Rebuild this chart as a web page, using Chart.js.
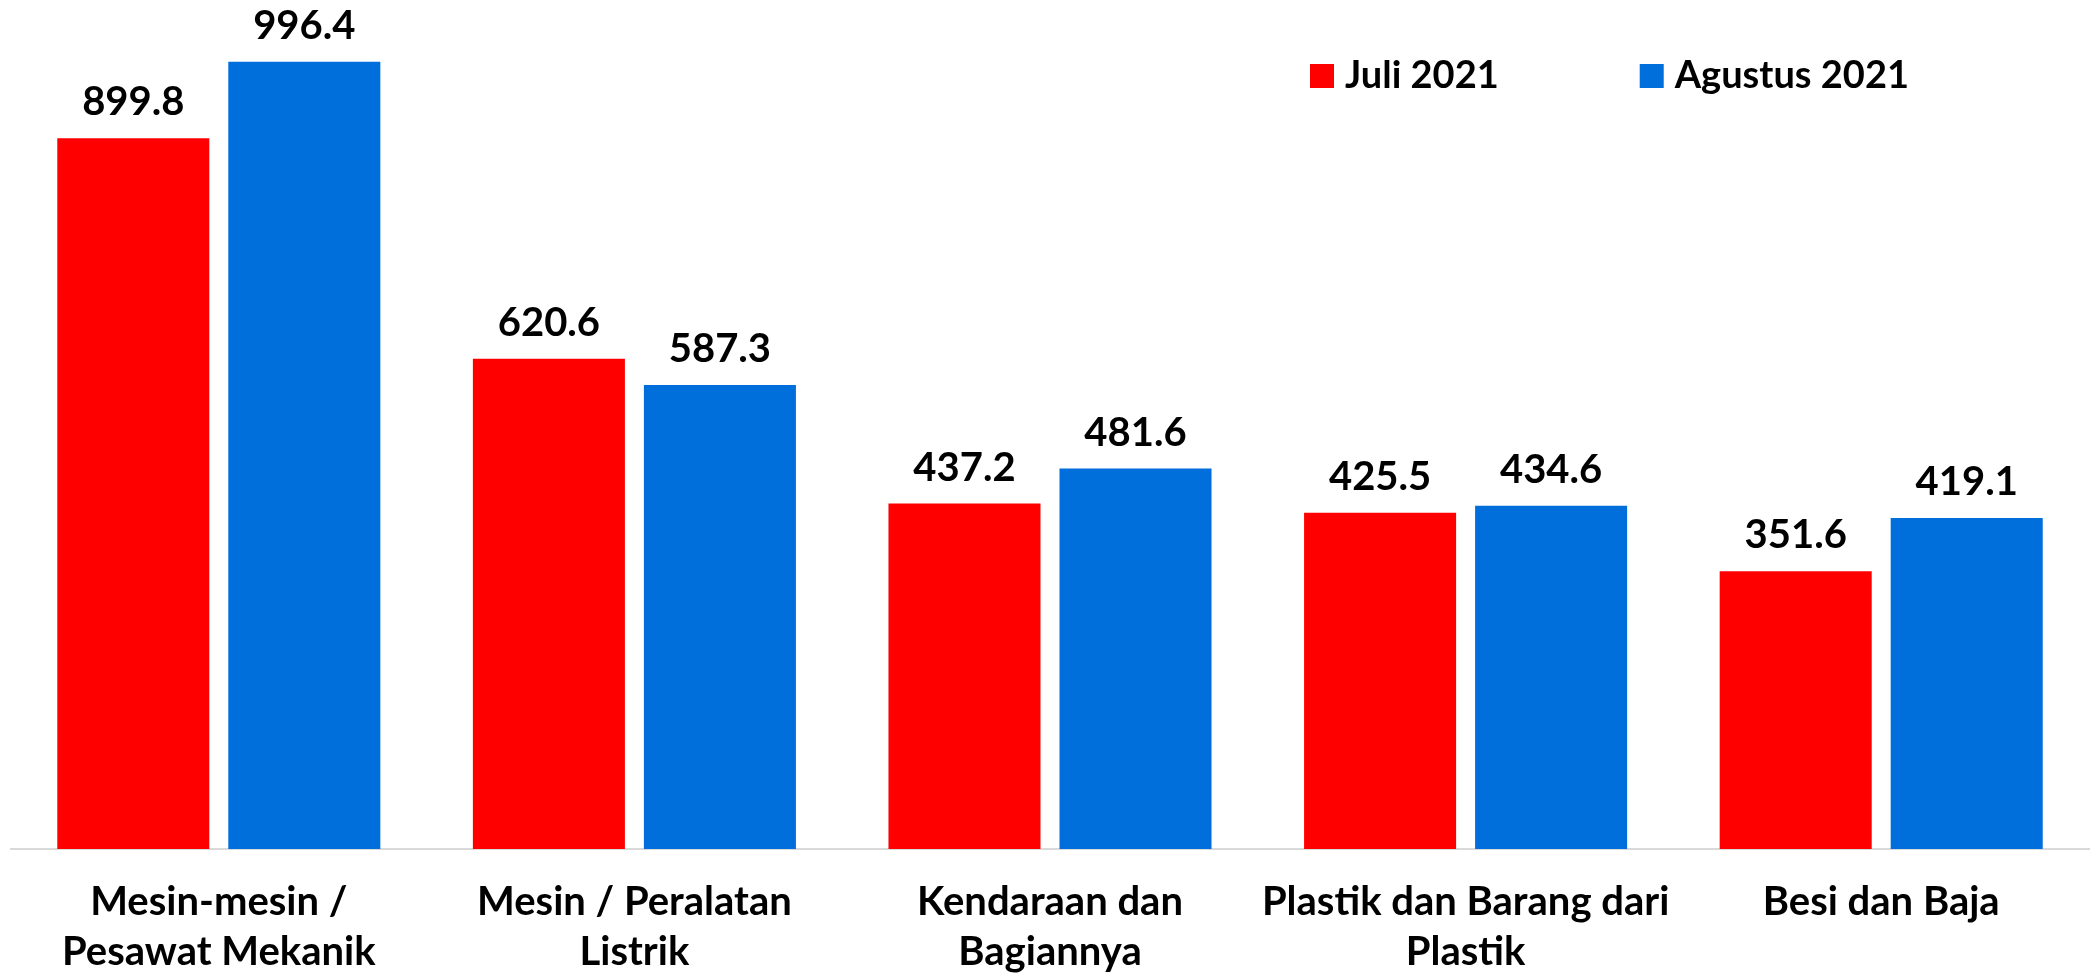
<!DOCTYPE html>
<html>
<head>
<meta charset="utf-8">
<script src="https://cdn.jsdelivr.net/npm/chart.js@4/dist/chart.umd.min.js"></script>
<style>
  html, body { margin: 0; padding: 0; background: #fff; }
  canvas { display: block; }
</style>
</head>
<body>
<canvas id="exportChart" width="2095" height="977"></canvas>
<script>
// Nilai ekspor per golongan barang (Juli vs Agustus 2021)
var categories = [
    ['Mesin-mesin /', 'Pesawat Mekanik'],
    ['Mesin / Peralatan', 'Listrik'],
    ['Kendaraan dan', 'Bagiannya'],
    ['Plastik dan Barang dari', 'Plastik'],
    ['Besi dan Baja']
];
var seriesNames = ['Juli 2021', 'Agustus 2021'];
var juliValues = [899.8, 620.6, 437.2, 425.5, 351.6];
var agustusValues = [996.4, 587.3, 481.6, 434.6, 419.1];

var FONT = 'Lato, "Open Sans", sans-serif';
var RED = '#ff0000';
var BLUE = '#006fdc';

// angka di atas tiap batang
var valueLabels = {
    id: 'valueLabels',
    afterDatasetsDraw: function (chart) {
        var ctx = chart.ctx;
        ctx.save();
        ctx.font = 'bold 40px ' + FONT;
        ctx.fillStyle = '#000';
        ctx.textAlign = 'center';
        ctx.textBaseline = 'alphabetic';
        chart.data.datasets.forEach(function (ds, i) {
            chart.getDatasetMeta(i).data.forEach(function (bar, j) {
                ctx.fillText(ds.data[j].toFixed(1), bar.x, bar.y - 23);
            });
        });
        ctx.restore();
    }
};

// legenda di kanan atas
var topLegend = {
    id: 'topLegend',
    afterDraw: function (chart) {
        var ctx = chart.ctx;
        ctx.save();
        ctx.font = 'bold 38px ' + FONT;
        ctx.textBaseline = 'middle';
        ctx.textAlign = 'left';
        var x = 1310, y = 76;
        chart.data.datasets.forEach(function (ds) {
            ctx.fillStyle = ds.backgroundColor;
            ctx.fillRect(x, y - 12, 24, 24);
            ctx.fillStyle = '#000';
            ctx.fillText(ds.label, x + 35, y);
            x += 35 + ctx.measureText(ds.label).width + 141;
        });
        ctx.restore();
    }
};

new Chart(document.getElementById('exportChart').getContext('2d'), {
    type: 'bar',
    data: {
        labels: categories,
        datasets: [
            { label: seriesNames[0], data: juliValues, backgroundColor: RED },
            { label: seriesNames[1], data: agustusValues, backgroundColor: BLUE }
        ]
    },
    options: {
        responsive: false,
        animation: false,
        layout: { padding: { top: 59, left: 11, right: 6, bottom: 0 } },
        categoryPercentage: 0.823,
        barPercentage: 0.889,
        scales: {
            x: {
                grid: { display: false },
                border: { display: true, color: '#d9d9d9', width: 2 },
                ticks: {
                    color: '#000',
                    padding: 20,
                    maxRotation: 0,
                    autoSkip: false,
                    font: { family: FONT, size: 40, weight: 'bold', lineHeight: 1.25 }
                },
                afterFit: function (scale) { scale.height = 128; }
            },
            y: {
                display: false,
                min: 0,
                max: 1000
            }
        },
        plugins: {
            legend: { display: false },
            tooltip: { enabled: false }
        }
    },
    plugins: [valueLabels, topLegend]
});
</script>
</body>
</html>
